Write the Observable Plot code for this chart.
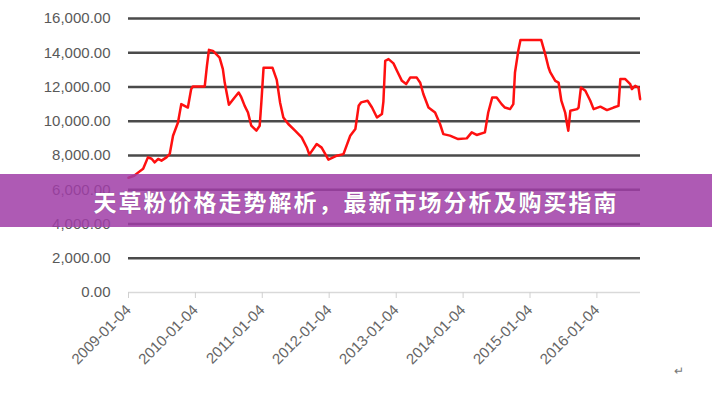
<!DOCTYPE html>
<html><head><meta charset="utf-8">
<script src="https://cdn.jsdelivr.net/npm/d3@7"></script>
<script src="https://cdn.jsdelivr.net/npm/@observablehq/plot@0.6"></script>
<style>
body{margin:0;background:#fff;width:712px;height:400px;overflow:hidden;position:relative;font-family:"Liberation Sans",Arial,sans-serif;}
#chart{position:absolute;left:0;top:0;}
#banner{position:absolute;left:0;top:174px;width:712px;height:53px;background:rgba(160,61,167,0.85);display:flex;align-items:center;justify-content:center;color:#fff;font-family:"Noto Sans CJK SC",sans-serif;font-weight:700;font-size:23px;letter-spacing:2px;text-shadow:0 0 1px rgba(0,0,0,0.3);}
#mark{position:absolute;left:674px;top:364px;font-size:12px;color:#777;}
</style></head>
<body>
<div id="chart"></div>
<div id="banner"></div>
<div id="mark">↵</div>
<script>
const titleText = "天草粉价格走势解析，最新市场分析及购买指南";
const dates = ["2009-01-04","2009-02-04","2009-02-25","2009-03-25","2009-04-20","2009-05-10","2009-05-27","2009-06-15","2009-07-03","2009-07-30","2009-08-17","2009-09-04","2009-10-01","2009-10-19","2009-11-06","2009-11-24","2009-12-12","2009-12-21","2010-02-24","2010-03-08","2010-03-19","2010-04-10","2010-05-07","2010-05-16","2010-06-03","2010-06-13","2010-07-06","2010-08-06","2010-08-28","2010-09-12","2010-09-30","2010-10-18","2010-11-05","2010-12-03","2010-12-21","2010-12-30","2011-01-11","2011-03-01","2011-03-24","2011-04-11","2011-04-29","2011-05-26","2011-07-02","2011-08-07","2011-09-04","2011-09-18","2011-10-28","2011-11-24","2011-12-31","2012-02-15","2012-03-22","2012-04-28","2012-05-26","2012-06-13","2012-06-26","2012-08-01","2012-08-25","2012-09-21","2012-10-18","2012-10-26","2012-11-05","2012-11-23","2012-12-20","2013-01-08","2013-02-04","2013-02-27","2013-03-21","2013-04-26","2013-05-15","2013-06-01","2013-06-29","2013-08-04","2013-08-31","2013-09-18","2013-10-24","2013-12-08","2014-01-24","2014-02-20","2014-03-19","2014-05-03","2014-05-21","2014-06-12","2014-07-06","2014-08-02","2014-08-20","2014-09-17","2014-10-05","2014-10-14","2014-11-01","2014-11-13","2015-03-06","2015-03-28","2015-04-15","2015-04-25","2015-05-22","2015-06-09","2015-06-24","2015-07-15","2015-07-25","2015-08-01","2015-08-12","2015-09-18","2015-09-26","2015-10-09","2015-11-02","2015-11-29","2015-12-17","2016-01-23","2016-02-28","2016-04-04","2016-05-01","2016-05-11","2016-06-07","2016-07-04","2016-07-13","2016-07-31","2016-08-18","2016-08-27"];
const prices = [6700,6820,7000,7230,7890,7810,7600,7800,7700,7890,8090,9150,9930,11000,10900,10800,11880,12030,12030,13240,14170,14110,13820,13720,13040,12260,10960,11390,11680,11390,10900,10510,9740,9450,9740,11100,13120,13120,12420,11100,10220,9840,9450,9060,8470,8050,8670,8460,7760,7990,8080,9150,9550,10900,11100,11200,10800,10220,10420,11140,13530,13630,13380,12950,12360,12170,12550,12550,12250,11590,10800,10510,9840,9250,9160,8960,9000,9350,9200,9350,10510,11390,11390,11000,10800,10710,11000,12850,14110,14750,14750,13920,13140,12850,12360,12260,11200,10510,9840,9450,10610,10710,10800,11970,11780,11200,10710,10850,10650,10800,10900,12460,12460,12170,11880,12070,11970,11290];
const xTickLabels = ["2009-01-04","2010-01-04","2011-01-04","2012-01-04","2013-01-04","2014-01-04","2015-01-04","2016-01-04"];
const yTickValues = [0,2000,4000,6000,8000,10000,12000,14000,16000];
const xDomain = ["2009-01-04","2016-08-29"];

document.getElementById("banner").textContent = titleText;
const data = dates.map((d,i)=>({date:new Date(d), price:prices[i]}));
const xTicks = xTickLabels.map(d=>new Date(d));
const fmtX = d3.utcFormat("%Y-%m-%d");
const fmtY = d3.format(",.2f");

const chart = Plot.plot({
  width:712, height:400,
  marginLeft:128, marginRight:72, marginTop:18, marginBottom:108,
  style:{fontFamily:"'Liberation Sans', Arial, sans-serif", background:"transparent", color:"#595959"},
  x:{type:"utc", domain:xDomain.map(d=>new Date(d)), label:null},
  y:{domain:[0,16000], label:null},
  marks:[
    Plot.ruleY(yTickValues.filter(v=>v>0), {stroke:"#4a4a4a", strokeWidth:2.6}),
    Plot.ruleY([0], {stroke:"#d9d9d9", strokeWidth:1.5}),
    Plot.axisX({ticks:xTicks, tickFormat:fmtX, tickRotate:-45, tickSize:6, tickPadding:9, stroke:"#d0d0d0", fill:"#666", fontSize:15, label:null}),
    Plot.axisY({ticks:yTickValues, tickFormat:fmtY, tickSize:0, tickPadding:18, fill:"#595959", fontSize:15, label:null}),
    Plot.line(data, {x:"date", y:"price", stroke:"#ff1010", strokeWidth:2.5})
  ]
});
document.getElementById("chart").appendChild(chart);
</script>
</body></html>
